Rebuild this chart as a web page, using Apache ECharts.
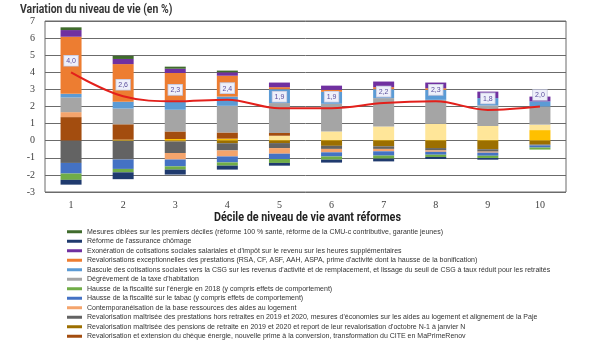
<!DOCTYPE html>
<html>
<head>
<meta charset="utf-8">
<script src="https://cdn.jsdelivr.net/npm/echarts@6/dist/echarts.min.js"></script>
<style>
  html, body { margin: 0; padding: 0; background: #ffffff; }
  #chart { width: 607px; height: 341px; }
</style>
</head>
<body>
<div id="chart"></div>
<script>
// Déciles de niveau de vie avant réformes
const deciles = ['1', '2', '3', '4', '5', '6', '7', '8', '9', '10'];

// Variation totale du niveau de vie (en %)
const variationTotale = [4.0, 2.6, 2.3, 2.4, 1.9, 1.9, 2.2, 2.3, 1.8, 2.0];

// Contributions des mesures (en points de %)
const mesuresCiblees      = [0.16, 0.18, 0.12, 0.10, 0, 0, 0, 0, 0, 0];
const assuranceChomage    = [-0.28, -0.40, -0.29, -0.23, -0.16, -0.17, -0.16, -0.12, -0.10, 0];
const heuresSup           = [0.39, 0.30, 0.25, 0.20, 0.27, 0.25, 0.33, 0.33, 0.38, 0.28];
const revalExceptionnelles = [3.34, 2.20, 1.60, 1.22, 0.12, 0.11, 0.12, 0.10, 0, 0];
const basculeCsg          = [0.21, 0.40, 0.55, 0.54, 0.81, 0.70, 0.52, 0.58, 0.43, 0.30];
const taxeHabitation      = [0.86, 0.92, 1.27, 1.56, 1.75, 1.62, 1.66, 1.40, 1.20, 1.06];
const fiscaliteEnergie    = [-0.37, -0.20, -0.19, -0.19, -0.23, -0.19, -0.18, -0.13, -0.13, -0.12];
const fiscaliteTabac      = [-0.62, -0.55, -0.40, -0.35, -0.31, -0.24, -0.25, -0.17, -0.18, -0.12];
const contemporaneisation = [0.29, 0, -0.38, -0.35, -0.33, -0.20, -0.14, -0.08, -0.06, 0];
const prestationsHorsRetraites = [-1.30, -1.10, -0.67, -0.42, -0.29, -0.18, -0.15, -0.14, -0.14, -0.05];
const pensionsRetraite    = [0, 0, -0.05, -0.15, -0.14, -0.30, -0.33, -0.43, -0.50, -0.23];
const chequeEnergie       = [1.38, 0.90, 0.44, 0.36, 0.16, 0, 0, 0, 0, 0];
const impotRevenu         = [0, 0, 0, 0, 0.25, 0.50, 0.79, 0.95, 0.80, 0.32];
const isfPfu              = [0, 0.06, 0.10, 0.12, 0.04, 0.04, 0.04, 0.04, 0.06, 0.62];

const yTicks = { min: -3, max: 7, interval: 1 };

const NAMES = {
  mesuresCiblees: "Mesures ciblées sur les premiers déciles (réforme 100 % santé, réforme de la CMU-c contributive, garantie jeunes)",
  assuranceChomage: "Réforme de l'assurance chômage",
  heuresSup: "Exonération de cotisations sociales salariales et d'impôt sur le revenu sur les heures supplémentaires",
  revalExceptionnelles: "Revalorisations exceptionnelles des prestations (RSA, CF, ASF, AAH, ASPA, prime d'activité dont la hausse de la bonification)",
  basculeCsg: "Bascule des cotisations sociales vers la CSG sur les revenus d'activité et de remplacement, et lissage du seuil de CSG à taux réduit pour les retraités",
  taxeHabitation: "Dégrèvement de la taxe d'habitation",
  fiscaliteEnergie: "Hausse de la fiscalité sur l'énergie en 2018 (y compris effets de comportement)",
  fiscaliteTabac: "Hausse de la fiscalité sur le tabac (y compris effets de comportement)",
  contemporaneisation: "Contemporanéisation de la base ressources des aides au logement",
  prestationsHorsRetraites: "Revalorisation maîtrisée des prestations hors retraites en 2019 et 2020, mesures d'économies sur les aides au logement et alignement de la Paje",
  pensionsRetraite: "Revalorisation maîtrisée des pensions de retraite en 2019 et 2020 et report de leur revalorisation d'octobre N-1 à janvier N",
  chequeEnergie: "Revalorisation et extension du chèque énergie, nouvelle prime à la conversion, transformation du CITE en MaPrimeRenov",
  impotRevenu: "Baisse de l'impôt sur le revenu",
  isfPfu: "Remplacement de l'ISF par l'IFI et instauration du PFU"
};

const legendOrder = [
  NAMES.mesuresCiblees, NAMES.assuranceChomage, NAMES.heuresSup, NAMES.revalExceptionnelles,
  NAMES.basculeCsg, NAMES.taxeHabitation, NAMES.fiscaliteEnergie, NAMES.fiscaliteTabac,
  NAMES.contemporaneisation, NAMES.prestationsHorsRetraites, NAMES.pensionsRetraite, NAMES.chequeEnergie
];

function bar(name, data, color) {
  return {
    name: name,
    type: 'bar',
    stack: 'total',
    barWidth: 21,
    data: data,
    itemStyle: { color: color },
    emphasis: { disabled: true }
  };
}

// Stacking order: positive parts pile up from zero in list order,
// negative parts pile down from zero in list order.
const series = [
  bar(NAMES.isfPfu, isfPfu, '#ffc000'),
  bar(NAMES.impotRevenu, impotRevenu, '#ffe699'),
  bar(NAMES.chequeEnergie, chequeEnergie, '#a34d0f'),
  bar(NAMES.pensionsRetraite, pensionsRetraite, '#9c6f00'),
  bar(NAMES.prestationsHorsRetraites, prestationsHorsRetraites, '#636363'),
  bar(NAMES.contemporaneisation, contemporaneisation, '#f4a46c'),
  bar(NAMES.taxeHabitation, taxeHabitation, '#a5a5a5'),
  bar(NAMES.basculeCsg, basculeCsg, '#5b9bd5'),
  bar(NAMES.revalExceptionnelles, revalExceptionnelles, '#ed7d31'),
  bar(NAMES.heuresSup, heuresSup, '#7030a0'),
  bar(NAMES.mesuresCiblees, mesuresCiblees, '#3f6b2c'),
  bar(NAMES.fiscaliteTabac, fiscaliteTabac, '#4472c4'),
  bar(NAMES.fiscaliteEnergie, fiscaliteEnergie, '#70ad47'),
  bar(NAMES.assuranceChomage, assuranceChomage, '#1f3a6e'),
  {
    name: 'Variation totale',
    type: 'line',
    data: variationTotale,
    smooth: 0.35,
    symbol: 'circle',
    symbolSize: 1,
    showSymbol: true,
    z: 5,
    lineStyle: { color: '#e3201b', width: 2 },
    itemStyle: { color: 'rgba(0,0,0,0)' },
    label: {
      show: true,
      position: 'top',
      distance: 6,
      formatter: function (p) { return p.value.toFixed(1).replace('.', ','); },
      fontFamily: 'Liberation Sans',
      fontSize: 7,
      color: '#5a4d9c',
      backgroundColor: '#eef0fa',
      borderColor: '#c3c6dd',
      borderWidth: 0.8,
      padding: [2, 2, 1, 2]
    },
    labelLayout: { hideOverlap: false },
    emphasis: { disabled: true }
  }
];

const chart = echarts.init(document.getElementById('chart'), null, { renderer: 'canvas' });

chart.setOption({
  animation: false,
  backgroundColor: '#ffffff',
  graphic: [
    {
      type: 'text',
      x: 20,
      y: 4,
      scaleX: 0.87,
      silent: true,
      style: {
        text: 'Variation du niveau de vie (en %)',
        font: 'bold 12px Roboto',
        fill: '#363636',
        textAlign: 'left',
        textVerticalAlign: 'top'
      }
    },
    {
      type: 'text',
      x: 307.5,
      y: 212,
      scaleX: 0.9,
      silent: true,
      style: {
        text: 'Décile de niveau de vie avant réformes',
        font: 'bold 12px Roboto',
        fill: '#222222',
        textAlign: 'center',
        textVerticalAlign: 'top'
      }
    }
  ],
  legend: {
    data: legendOrder,
    orient: 'vertical',
    left: 62,
    top: 222,
    height: 130,
    itemWidth: 15,
    itemHeight: 3,
    itemGap: 0,
    icon: 'rect',
    selectedMode: false,
    textStyle: {
      fontFamily: 'Liberation Sans',
      fontSize: 7,
      lineHeight: 9.5,
      color: '#333333'
    }
  },
  grid: {
    left: 45,
    right: 41,
    top: 21,
    bottom: 149,
    show: true,
    borderColor: '#6b6b6b',
    borderWidth: 1
  },
  xAxis: {
    type: 'category',
    data: deciles,
    axisLine: { show: false },
    axisTick: { show: false },
    axisLabel: {
      fontFamily: 'Liberation Serif',
      fontSize: 10,
      color: '#404040',
      margin: 8
    }
  },
  yAxis: {
    type: 'value',
    min: yTicks.min,
    max: yTicks.max,
    interval: yTicks.interval,
    axisLine: { show: false },
    axisTick: { show: false },
    axisLabel: {
      fontFamily: 'Liberation Serif',
      fontSize: 10,
      color: '#404040',
      margin: 10
    },
    splitLine: { lineStyle: { color: '#6b6b6b', width: 1 } }
  },
  series: series
});
</script>
</body>
</html>
